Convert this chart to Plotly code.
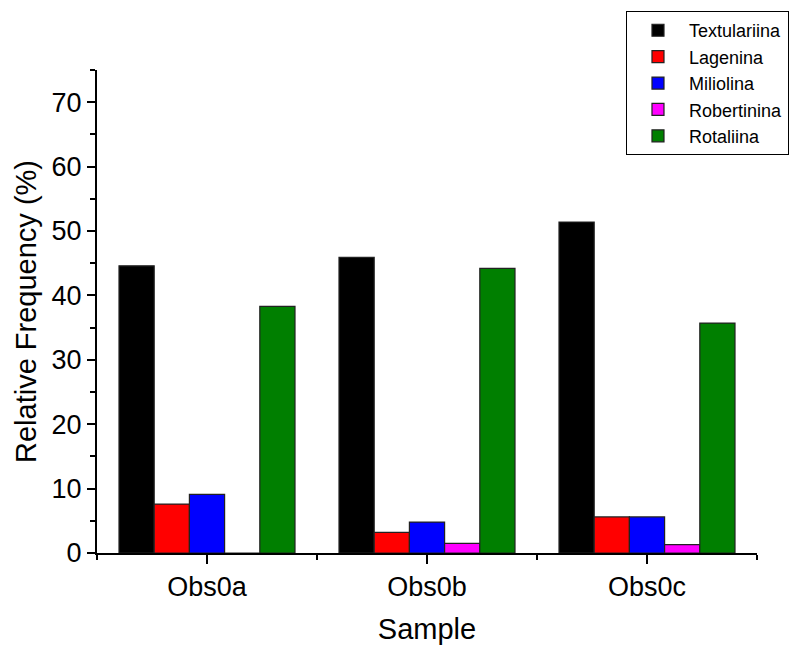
import plotly.graph_objects as go

categories = ["Obs0a", "Obs0b", "Obs0c"]
series_names = ["Textulariina", "Lagenina", "Miliolina", "Robertinina", "Rotaliina"]
textulariina = [44.6, 45.9, 51.4]
lagenina = [7.6, 3.2, 5.6]
miliolina = [9.1, 4.8, 5.6]
robertinina = [0.0, 1.5, 1.3]
rotaliina = [38.3, 44.2, 35.7]
colors = ["#000000", "#FF0000", "#0000FF", "#FF00FF", "#007F00"]

values = [textulariina, lagenina, miliolina, robertinina, rotaliina]
xpos = list(range(len(categories)))

fig = go.Figure()
for name, vals, col in zip(series_names, values, colors):
    fig.add_trace(go.Bar(
        x=xpos, y=vals, name=name,
        marker=dict(color=col, line=dict(color="#222222", width=1.2)),
    ))

font_family = "Liberation Sans, Arial, sans-serif"
fig.update_layout(
    width=807, height=647,
    margin=dict(l=89, r=58, t=62, b=102, autoexpand=False),
    paper_bgcolor="white", plot_bgcolor="white",
    barmode="group", bargap=0.2, bargroupgap=0,
    font=dict(family=font_family, color="black"),
    showlegend=True,
    legend=dict(
        x=0.8015, y=1.122, xanchor="left", yanchor="top",
        bordercolor="black", borderwidth=1, bgcolor="white",
        font=dict(size=18, family=font_family),
        itemwidth=52, tracegroupgap=0,
    ),
    xaxis=dict(
        range=[-0.5, 2.5],
        tickmode="array", tickvals=xpos, ticktext=categories,
        showline=True, linecolor="black", linewidth=2,
        ticks="outside", ticklen=9, tickwidth=2, tickcolor="black",
        minor=dict(tickmode="linear", tick0=-0.5, dtick=1, ticks="outside",
                   ticklen=5, tickwidth=2, tickcolor="black"),
        showgrid=False, zeroline=False,
        tickfont=dict(size=27),
        title=dict(text="Sample", font=dict(size=29), standoff=17),
    ),
    yaxis=dict(
        range=[0, 75],
        tickmode="linear", tick0=0, dtick=10,
        showline=True, linecolor="black", linewidth=2,
        ticks="outside", ticklen=8, tickwidth=2, tickcolor="black",
        minor=dict(tickmode="linear", tick0=5, dtick=10, ticks="outside",
                   ticklen=5, tickwidth=2, tickcolor="black"),
        showgrid=False, zeroline=False,
        tickfont=dict(size=27),
        title=dict(text="Relative Frequency (%)", font=dict(size=29), standoff=6),
    ),
)

fig.write_html("out.html")
